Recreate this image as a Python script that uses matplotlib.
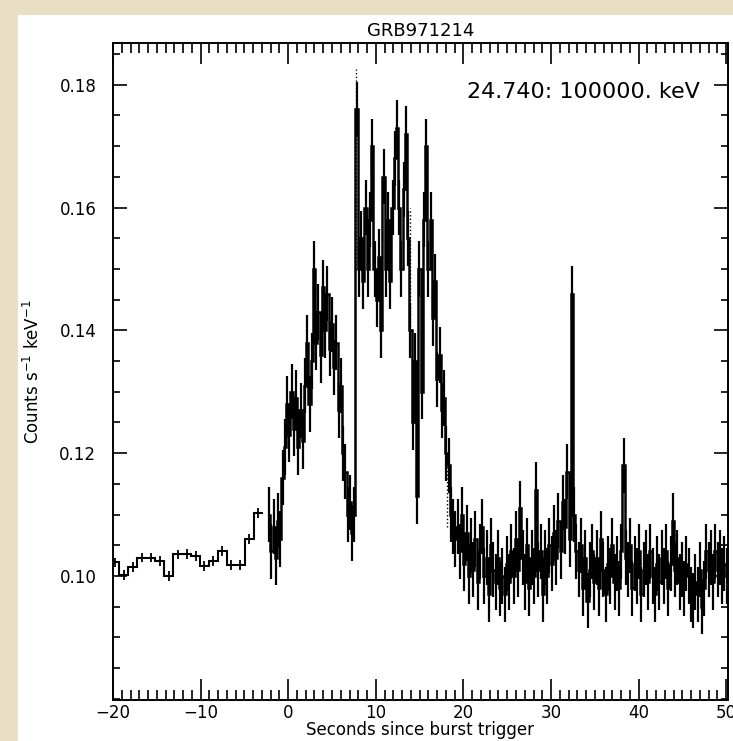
import matplotlib
matplotlib.use("Agg")
import matplotlib.pyplot as plt
from matplotlib.patches import Rectangle
from matplotlib.ticker import MultipleLocator, FormatStrFormatter
import numpy as np

plt.rcParams['font.family'] = ['DejaVu Sans']
plt.rcParams['mathtext.fontset'] = 'dejavusans'

# ---------------- data ----------------
title = "GRB971214"
energy_label = "24.740: 100000. keV"
xlabel = "Seconds since burst trigger"
ylabel = r"Counts s$^{-1}$ keV$^{-1}$"
xticks = [-20, -10, 0, 10, 20, 30, 40, 50]
yticks = [0.10, 0.12, 0.14, 0.16, 0.18]

# pre-burst coarse bins (1.024 s)
coarse_start = -20.31
coarse_width = 1.024
coarse_rate = [0.1022, 0.1002, 0.1014, 0.1030, 0.1030, 0.1025, 0.1000, 0.1035,
               0.1036, 0.1032, 0.1016, 0.1024, 0.1040, 0.1018, 0.1018, 0.1060,
               0.1103]
coarse_err = 0.0008

# burst / post-burst fine bins (0.256 s)
fine_start = -2.304
fine_width = 0.256
fine_rate = [
    # -2.3 .. 1.8
    0.110, 0.104, 0.108, 0.103, 0.109, 0.106, 0.116, 0.121, 0.128, 0.123,
    0.130, 0.124, 0.129, 0.121, 0.127, 0.122,
    # 1.8 .. 7.7
    0.131, 0.138, 0.128, 0.135, 0.150, 0.138, 0.143, 0.136, 0.147, 0.140,
    0.146, 0.137, 0.141, 0.134, 0.138, 0.127, 0.131, 0.120, 0.117, 0.110,
    0.112, 0.107, 0.110,
    # 7.7 .. 19.2
    0.176, 0.150, 0.155, 0.148, 0.160, 0.150, 0.158, 0.170, 0.150, 0.145,
    0.152, 0.140, 0.165, 0.150, 0.158, 0.148, 0.160, 0.168, 0.173, 0.160,
    0.150, 0.163, 0.172, 0.155, 0.140, 0.125, 0.135, 0.113, 0.150, 0.130,
    0.158, 0.170, 0.150, 0.158, 0.142, 0.148, 0.132, 0.136, 0.127, 0.129,
    0.120, 0.118, 0.110, 0.108, 0.106,
    # 19.2 .. 32.0
    0.108, 0.104, 0.110, 0.102, 0.107, 0.100, 0.105, 0.101, 0.106, 0.099,
    0.104, 0.108, 0.100, 0.103, 0.097, 0.105, 0.101, 0.099, 0.103, 0.098,
    0.100, 0.097, 0.102, 0.099, 0.104, 0.100, 0.106, 0.101, 0.111, 0.103,
    0.099, 0.105, 0.098, 0.103, 0.100, 0.114, 0.101, 0.104, 0.097, 0.103,
    0.100, 0.105, 0.102, 0.107, 0.103, 0.109, 0.104, 0.112, 0.108, 0.117,
    # 32.0 .. 42.0
    0.106, 0.146, 0.110, 0.104, 0.101, 0.105, 0.098, 0.103, 0.096, 0.101,
    0.104, 0.099, 0.103, 0.098, 0.106, 0.101, 0.097, 0.102, 0.100, 0.105,
    0.099, 0.102, 0.098, 0.104, 0.118, 0.103, 0.101, 0.105, 0.098, 0.102,
    0.100, 0.104, 0.097, 0.101, 0.103, 0.099, 0.104, 0.100, 0.097, 0.102,
    # 42.2 .. 50.2
    0.099, 0.103, 0.100, 0.104, 0.098, 0.102, 0.109, 0.101, 0.103, 0.099,
    0.101, 0.098, 0.102, 0.100, 0.097, 0.096, 0.099, 0.097, 0.101, 0.095,
    0.098, 0.104, 0.101, 0.103, 0.099, 0.104, 0.101, 0.103, 0.100, 0.102,
    0.100,
]
fine_err = 0.0045

# dotted markers (data gaps)
dotted_x = [7.75, 13.95, 18.1]
dotted_lo = [0.150, 0.140, 0.108]
dotted_hi = [0.1825, 0.160, 0.120]

# ---------------- figure ----------------
W, H = 733, 741
fig = plt.figure(figsize=(W / 100, H / 100), dpi=100)
fig.patch.set_facecolor('#e8dfc5')
fig.add_artist(Rectangle((18 / W, 0), 1, 1 - 15 / H, transform=fig.transFigure,
                         facecolor='white', edgecolor='none', zorder=0))

ax = fig.add_axes([113 / W, 1 - 700 / H, (728 - 113) / W, (700 - 43) / H])
ax.set_facecolor('white')

c_edges = coarse_start + coarse_width * np.arange(len(coarse_rate) + 1)
c_cent = 0.5 * (c_edges[:-1] + c_edges[1:])
ax.stairs(coarse_rate, c_edges, baseline=None, color='k', lw=1.5)
ax.errorbar(c_cent, coarse_rate, yerr=coarse_err, fmt='none', ecolor='k', elinewidth=1.3)

f_edges = fine_start + fine_width * np.arange(len(fine_rate) + 1)
f_cent = 0.5 * (f_edges[:-1] + f_edges[1:])
ax.stairs(fine_rate, f_edges, baseline=None, color='k', lw=1.8)
ax.errorbar(f_cent, fine_rate, yerr=fine_err, fmt='none', ecolor='k', elinewidth=1.6)

ax.vlines(dotted_x, dotted_lo, dotted_hi, colors='k', linestyles=':', lw=1.0)

ax.set_xlim(-20, 50.2)
ax.set_ylim(0.0798, 0.1868)
ax.set_xticks(xticks)
ax.set_yticks(yticks)
ax.xaxis.set_minor_locator(MultipleLocator(1))
ax.yaxis.set_minor_locator(MultipleLocator(0.005))
ax.yaxis.set_major_formatter(FormatStrFormatter('%.2f'))
ax.tick_params(which='both', direction='in', top=True, right=True, width=1.2,
               labelsize=12, colors='k')
ax.tick_params(axis='x', which='major', length=15, pad=3)
ax.tick_params(axis='x', which='minor', length=7)
ax.tick_params(axis='y', which='major', length=10, pad=12)
ax.tick_params(axis='y', which='minor', length=5)
for s in ax.spines.values():
    s.set_linewidth(1.4)

ax.set_title(title, fontsize=13, pad=5)
ax.set_xlabel(xlabel, fontsize=12, labelpad=-1)
ax.set_ylabel(ylabel, fontsize=12, labelpad=12)
ax.text(0.955, 0.925, energy_label, transform=ax.transAxes, ha='right', va='center',
        fontsize=16)

fig.savefig('out.png', dpi=100, facecolor=fig.get_facecolor())
